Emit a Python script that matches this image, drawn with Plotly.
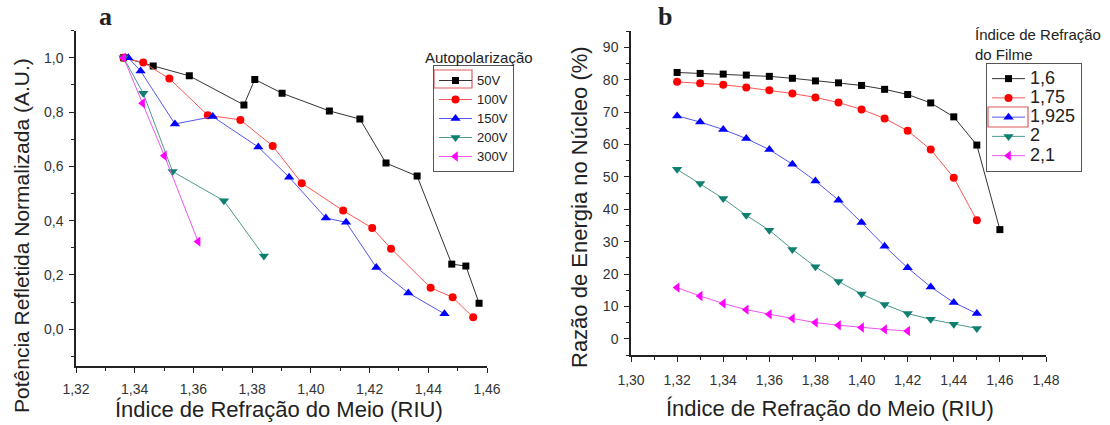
import plotly.graph_objects as go

# ---------------- Panel a data ----------------
a_names = ["50V", "100V", "150V", "200V", "300V"]
a50_x = [1.3362, 1.3463, 1.3586, 1.3772, 1.3809, 1.3902, 1.4063, 1.4167, 1.4256, 1.4362, 1.4480, 1.4528, 1.4573]
a50_y = [1.000, 0.969, 0.933, 0.826, 0.920, 0.869, 0.804, 0.774, 0.612, 0.564, 0.240, 0.233, 0.096]
a100_x = [1.3362, 1.3429, 1.3518, 1.3649, 1.3760, 1.3870, 1.3969, 1.4110, 1.4209, 1.4273, 1.4408, 1.4483, 1.4553]
a100_y = [1.000, 0.982, 0.923, 0.788, 0.771, 0.675, 0.538, 0.437, 0.373, 0.297, 0.153, 0.118, 0.044]
a150_x = [1.3378, 1.3420, 1.3537, 1.3666, 1.3821, 1.3926, 1.4051, 1.4120, 1.4223, 1.4332, 1.4455]
a150_y = [1.000, 0.951, 0.756, 0.783, 0.671, 0.560, 0.410, 0.394, 0.228, 0.134, 0.057]
a200_x = [1.3362, 1.3429, 1.3529, 1.3704, 1.3840]
a200_y = [1.000, 0.869, 0.581, 0.473, 0.270]
a300_x = [1.3362, 1.3427, 1.3501, 1.3616]
a300_y = [1.000, 0.832, 0.639, 0.323]

# ---------------- Panel b data ----------------
b_names = ["1,6", "1,75", "1,925", "2", "2,1"]
b_x = [1.32, 1.33, 1.34, 1.35, 1.36, 1.37, 1.38, 1.39, 1.40, 1.41, 1.42, 1.43, 1.44, 1.45, 1.46]
b16 = [82.2, 81.9, 81.7, 81.4, 81.0, 80.4, 79.6, 79.0, 78.2, 77.0, 75.4, 72.8, 68.5, 59.8, 33.7]
b175 = [79.3, 78.9, 78.4, 77.6, 76.7, 75.7, 74.5, 72.9, 70.8, 68.0, 64.2, 58.4, 49.7, 36.6]
b1925 = [68.8, 66.9, 64.6, 61.8, 58.4, 53.9, 48.7, 42.8, 35.9, 28.6, 21.9, 16.0, 11.2, 7.8]
b2 = [52.3, 47.9, 43.3, 38.1, 33.5, 27.6, 22.2, 17.7, 13.8, 10.6, 7.8, 6.0, 4.5, 3.2]
b21 = [15.8, 13.2, 10.9, 9.0, 7.6, 6.3, 5.0, 4.2, 3.5, 2.9, 2.4]

colors = ["#000000", "#ff0000", "#0000ff", "#0f7f6f", "#ff00ff"]
symbols = ["square", "circle", "triangle-up", "triangle-down", "triangle-left"]
msizes = [7, 8, 9, 9, 9]
line_colors = ["#333333", "#ff5555", "#5555ee", "#4d9a8e", "#ee55ee"]

W, H = 1110, 425
FONT = "Liberation Sans, Arial, sans-serif"


def px(x):
    return x / W


def py(y):
    return 1 - y / H


fig = go.Figure()

a_series = [(a50_x, a50_y), (a100_x, a100_y), (a150_x, a150_y), (a200_x, a200_y), (a300_x, a300_y)]
for i, (xs, ys) in enumerate(a_series):
    fig.add_trace(go.Scatter(
        x=xs, y=ys, mode="lines+markers",
        name='<span style="font-size:13px">%s</span>' % a_names[i],
        line=dict(color=line_colors[i], width=1),
        marker=dict(symbol=symbols[i], color=colors[i], size=msizes[i], line=dict(width=0)),
        xaxis="x", yaxis="y", legend="legend"))

b_series = [b16, b175, b1925, b2, b21]
for i, ys in enumerate(b_series):
    fig.add_trace(go.Scatter(
        x=b_x[:len(ys)], y=ys, mode="lines+markers",
        name='<span style="font-size:18px">%s</span>' % b_names[i],
        line=dict(color=line_colors[i], width=1),
        marker=dict(symbol=symbols[i], color=colors[i], size=msizes[i], line=dict(width=0)),
        xaxis="x2", yaxis="y2", legend="legend2"))

axis_common = dict(
    showline=True, linecolor="#222222", linewidth=1.5, mirror=False,
    ticks="outside", ticklen=5, tickwidth=1.2, tickcolor="#222222",
    showgrid=False, zeroline=False,
    tickfont=dict(family=FONT, size=14, color="#333333"),
)

fig.update_layout(
    width=W, height=H, margin=dict(l=0, r=0, t=0, b=0, autoexpand=False),
    paper_bgcolor="white", plot_bgcolor="white",
    separators=",.",
    font=dict(family=FONT, color="#222222"),
    xaxis=dict(domain=[px(76), px(487)], range=[1.32, 1.46], dtick=0.02, tickformat=".2f",
               anchor="y", ticklabelstandoff=4,
               minor=dict(ticks="outside", ticklen=3, dtick=0.01, tickcolor="#222222"),
               **axis_common),
    yaxis=dict(domain=[py(366), py(30.5)], range=[-0.135, 1.1], dtick=0.2, tick0=0, tickformat=".1f",
               anchor="x", ticklabelstandoff=3,
               minor=dict(ticks="outside", ticklen=3, dtick=0.1, tickcolor="#222222"),
               **axis_common),
    xaxis2=dict(domain=[px(631), px(1046)], range=[1.30, 1.48], dtick=0.02, tickformat=".2f",
                anchor="y2", ticklabelstandoff=6,
                minor=dict(ticks="outside", ticklen=3, dtick=0.01, tickcolor="#222222"),
                **axis_common),
    yaxis2=dict(domain=[py(355), py(31)], range=[-5, 95], dtick=10, tick0=0,
                anchor="x2", ticklabelstandoff=3,
                minor=dict(ticks="outside", ticklen=3, dtick=5, tickcolor="#222222"),
                **axis_common),
    legend=dict(x=px(433), y=py(65), xanchor="left", yanchor="top",
                bgcolor="rgba(255,255,255,0)", bordercolor="#555555", borderwidth=1,
                font=dict(family=FONT, size=12, color="#222222"),
                tracegroupgap=0, itemwidth=33),
    legend2=dict(x=px(986), y=py(63), xanchor="left", yanchor="top",
                 bgcolor="rgba(255,255,255,0)", bordercolor="#555555", borderwidth=1,
                 font=dict(family=FONT, size=12.5, color="#222222"),
                 tracegroupgap=0, itemwidth=33),
    showlegend=True,
)


def note(text, x, y, size, xanchor="center", yanchor="middle", angle=0, family=FONT, align="center"):
    fig.add_annotation(text=text, x=px(x), y=py(y), xref="paper", yref="paper",
                       xanchor=xanchor, yanchor=yanchor, textangle=angle, align=align,
                       showarrow=False, font=dict(family=family, size=size, color="#222222"))


# legend titles (drawn above the boxes as in the original)
note("Autopolarização", 479, 57, 15)
note("Índice de Refração<br>do Filme", 973, 45, 15, xanchor="left", align="left")

# axis titles
note("Índice de Refração do Meio (RIU)", 279, 409, 22)
note("Índice de Refração do Meio (RIU)", 830, 408, 22)
note("Potência Refletida Normalizada (A.U.)", 21, 236, 21, angle=-90)
note("Razão de Energia no Núcleo (%)", 579, 207, 22, angle=-90)

# panel letters
note("<b>a</b>", 105, 0, 26, yanchor="top", family="Liberation Serif, serif")
note("<b>b</b>", 665, 0, 26, yanchor="top", family="Liberation Serif, serif")

# red selection boxes around one legend entry (artefact in the original figure)
fig.add_shape(type="rect", xref="paper", yref="paper",
              x0=px(434), x1=px(472), y0=py(88), y1=py(70),
              line=dict(color="#e05a5a", width=1.2), fillcolor="rgba(0,0,0,0)")
fig.add_shape(type="rect", xref="paper", yref="paper",
              x0=px(988), x1=px(1028), y0=py(127), y1=py(107),
              line=dict(color="#e05a5a", width=1.2), fillcolor="rgba(0,0,0,0)")

fig.write_html("out.html")
